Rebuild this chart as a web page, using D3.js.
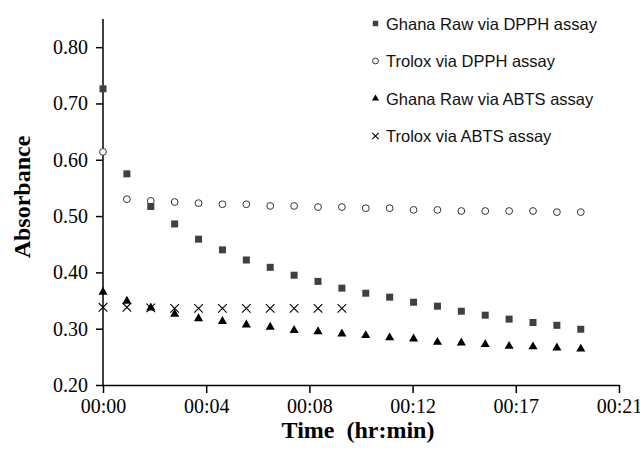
<!DOCTYPE html>
<html>
<head>
<meta charset="utf-8">
<script src="https://cdn.jsdelivr.net/npm/d3@7"></script>
<style>
  body { margin: 0; background: #fff; }
  svg { display: block; }
</style>
</head>
<body>
<script>
// data (time in minutes, absorbance)
const times = [0, 1, 2, 3, 4, 5, 6, 7, 8, 9, 10, 11, 12, 13, 14, 15, 16, 17, 18, 19, 20];
const ghanaDPPH = [0.726, 0.575, 0.517, 0.486, 0.459, 0.440, 0.422, 0.409, 0.395, 0.384, 0.372,
                   0.363, 0.356, 0.347, 0.340, 0.331, 0.324, 0.317, 0.311, 0.306, 0.299];
const troloxDPPH = [0.614, 0.530, 0.527, 0.525, 0.523, 0.521, 0.521, 0.518, 0.518, 0.516, 0.516,
                    0.514, 0.514, 0.511, 0.511, 0.509, 0.509, 0.509, 0.509, 0.507, 0.507];
const ghanaABTS = [0.365, 0.349, 0.337, 0.326, 0.318, 0.313, 0.307, 0.303, 0.297, 0.295, 0.291,
                   0.288, 0.284, 0.282, 0.276, 0.275, 0.272, 0.269, 0.268, 0.266, 0.264];
const troloxABTS = [0.338, 0.338, 0.337, 0.336, 0.336, 0.336, 0.336, 0.336, 0.336, 0.336, 0.336];

const seriesNames = ["Ghana Raw via DPPH assay", "Trolox via DPPH assay",
                     "Ghana Raw via ABTS assay", "Trolox via ABTS assay"];
const xTicks = [0, 4.32, 8.64, 12.96, 17.28, 21.6]; // excel major unit 0.003 day
const yTicks = [0.2, 0.3, 0.4, 0.5, 0.6, 0.7, 0.8];

var W = 640, H = 454;
var margin = {top: 19, right: 21, bottom: 69, left: 103};
var width = W - margin.left - margin.right,
    height = H - margin.top - margin.bottom;

var svg = d3.select("body").append("svg")
  .attr("width", W)
  .attr("height", H);

var g = svg.append("g")
  .attr("transform", "translate(" + margin.left + "," + margin.top + ")");

var x = d3.scaleLinear().domain([0, 21.6]).range([0, width]);
var y = d3.scaleLinear().domain([0.2, 0.85]).range([height, 0]);

var fmtTime = function(m) {
  var mm = Math.floor(m + 1e-6);
  return "00:" + (mm < 10 ? "0" + mm : mm);
};

// axes
var xAxis = g.append("g")
  .attr("transform", "translate(0," + height + ")")
  .call(d3.axisBottom(x).tickValues(xTicks).tickFormat(fmtTime).tickSize(8).tickPadding(6).tickSizeOuter(0));

var yAxis = g.append("g")
  .call(d3.axisLeft(y).tickValues(yTicks).tickFormat(d3.format(".2f")).tickSize(7).tickPadding(8).tickSizeOuter(0));

[xAxis, yAxis].forEach(function(a) {
  a.select(".domain").attr("stroke", "#000").attr("stroke-width", 1.5);
  a.selectAll(".tick line").attr("stroke", "#000").attr("stroke-width", 1.5);
  a.selectAll(".tick text")
    .attr("fill", "#000")
    .style("font-family", "'Liberation Serif', 'Times New Roman', serif")
    .style("font-size", "20px");
});
// y domain line spans the whole plot height (top end has no tick)
yAxis.select(".domain").attr("d", "M0," + height + "V0");

// axis titles
svg.append("text")
  .attr("x", 358)
  .attr("y", 438)
  .attr("text-anchor", "middle")
  .style("font-family", "'Liberation Serif', 'Times New Roman', serif")
  .style("font-size", "24px")
  .style("font-weight", "bold")
  .style("white-space", "pre")
  .text("Time  (hr:min)");

svg.append("text")
  .attr("transform", "translate(30,197) rotate(-90)")
  .attr("text-anchor", "middle")
  .style("font-family", "'Liberation Serif', 'Times New Roman', serif")
  .style("font-size", "24px")
  .style("font-weight", "bold")
  .text("Absorbance");

// marker helpers
function drawSquare(sel, s) {
  sel.append("path").attr("d", d3.symbol(d3.symbolSquare, s * s)()).attr("fill", "#404040");
}
function drawCircle(sel, r) {
  sel.append("circle").attr("r", r).attr("fill", "#fff").attr("stroke", "#333").attr("stroke-width", 1);
}
function drawTriangle(sel, s) {
  sel.append("path").attr("d", d3.symbol(d3.symbolTriangle, s)()).attr("fill", "#000");
}
function drawCross(sel, h) {
  sel.append("path")
    .attr("d", "M" + (-h) + "," + (-h) + "L" + h + "," + h + "M" + (-h) + "," + h + "L" + h + "," + (-h))
    .attr("stroke", "#000").attr("stroke-width", 1.1).attr("fill", "none");
}

var plot = g.append("g").attr("id", "points");

function addSeries(vals, drawer, arg) {
  plot.append("g").selectAll("g")
    .data(vals)
    .enter().append("g")
    .attr("transform", function(d, i) { return "translate(" + x(times[i]) + "," + y(d) + ")"; })
    .each(function() { drawer(d3.select(this), arg); });
}

addSeries(troloxABTS, drawCross, 4.3);
addSeries(ghanaABTS, drawTriangle, 36);
addSeries(troloxDPPH, drawCircle, 3.4);
addSeries(ghanaDPPH, drawSquare, 7);

// legend
var legend = svg.append("g").attr("transform", "translate(375.5,23.5)");
var drawers = [
  function(s) { drawSquare(s, 5.5); },
  function(s) { drawCircle(s, 2.9); },
  function(s) { drawTriangle(s, 22); },
  function(s) { drawCross(s, 3.2); }
];
seriesNames.forEach(function(name, i) {
  var row = legend.append("g").attr("transform", "translate(0," + (i * 37.5) + ")");
  drawers[i](row.append("g"));
  row.append("text")
    .attr("x", 10.5)
    .attr("y", 6)
    .attr("fill", "#111")
    .style("font-family", "'Liberation Sans', Arial, sans-serif")
    .style("font-size", "16.5px")
    .text(name);
});
</script>
</body>
</html>
